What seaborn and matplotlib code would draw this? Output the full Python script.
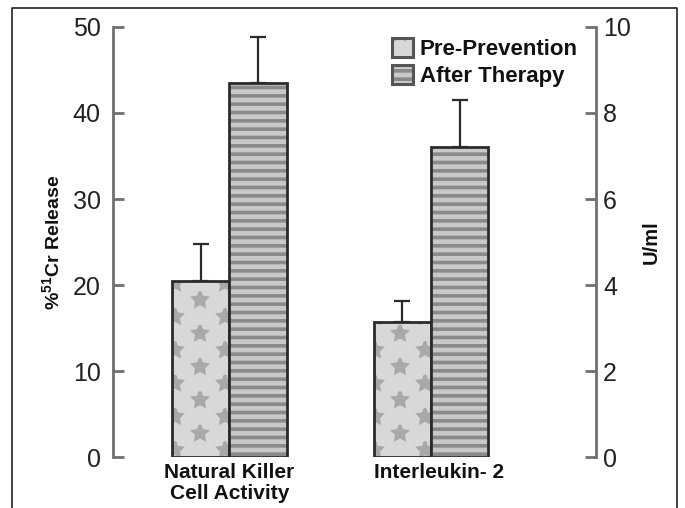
import matplotlib
matplotlib.use("Agg")
import numpy as np
import matplotlib.pyplot as plt
import matplotlib.hatch as mhatch
import matplotlib.transforms as mtransforms
from matplotlib.path import Path
import seaborn as sns
import pandas as pd
from matplotlib.patches import Patch
from matplotlib.lines import Line2D
from matplotlib.colors import to_rgba

# ---- data ----
categories = ["Natural Killer\nCell Activity", "Interleukin- 2"]
conditions = ["Pre-Prevention", "After Therapy"]
nk_values = [20.5, 43.5]       # % 51Cr release (left axis)
nk_errors = [4.3, 5.3]
il2_values = [3.15, 7.2]       # U/ml (right axis)
il2_errors = [0.48, 1.1]
left_ticks = [0, 10, 20, 30, 40, 50]
right_ticks = [0, 2, 4, 6, 8, 10]

face_colors = ["#d8d8d8", "#c9c9c9"]
hatch_colors = ["#a9a9a9", "#8a8a8a"]
hatches = ["*", "--"]


# sparser, larger star texture for the '*' hatch
class SparseStars(mhatch.HatchPatternBase):
    def __init__(self, hatch, density):
        self.rows = 6 if hatch.count("*") else 0
        self.cols = 2
        star = Path.unit_regular_star(5)
        self.shape_vertices = star.vertices * 0.064
        codes = np.full(len(star.vertices), Path.LINETO, dtype=Path.code_type)
        codes[0] = Path.MOVETO
        self.shape_codes = codes
        if self.rows == 0:
            self.num_vertices = 0
        else:
            n_shapes = 0
            for r in range(self.rows + 1):
                n_shapes += (self.cols + 1) if r % 2 == 0 else self.cols
            self.num_vertices = n_shapes * len(self.shape_vertices)

    def set_vertices_and_codes(self, vertices, codes):
        vparts, cparts = [], []
        for r in range(self.rows + 1):
            if r % 2 == 0:
                cols = np.linspace(0, 1, self.cols + 1)
            else:
                cols = np.linspace(0.5 / self.cols, 1 - 0.5 / self.cols, self.cols)
            y = r / self.rows
            for x in cols:
                vparts.append(self.shape_vertices + [x, y])
                cparts.append(self.shape_codes)
        np.concatenate(vparts, out=vertices)
        np.concatenate(cparts, out=codes)


mhatch._hatch_types = [SparseStars if t is mhatch.Stars else t for t in mhatch._hatch_types]

sns.set_theme(style="white")
plt.rcParams["font.family"] = ["Liberation Sans", "DejaVu Sans"]
plt.rcParams["mathtext.fontset"] = "custom"
plt.rcParams["mathtext.rm"] = "Liberation Sans:bold"
plt.rcParams["mathtext.bf"] = "Liberation Sans:bold"
plt.rcParams["hatch.linewidth"] = 2.6

fig = plt.figure(figsize=(6.85, 5.08), dpi=100)
ax = fig.add_axes([0.165, 0.100, 0.705, 0.847])
ax2 = ax.twinx()

nk_df = pd.DataFrame({"group": [categories[0]] * 2, "condition": conditions, "value": nk_values})
il_df = pd.DataFrame({"group": [categories[1]] * 2, "condition": conditions, "value": il2_values})


def set_hatch_color(p, c):
    try:
        p.set_hatchcolor(c)
    except AttributeError:
        p._hatch_color = to_rgba(c)


def draw(axis, df, errs):
    sns.barplot(data=df, x="group", y="value", hue="condition", order=categories,
                hue_order=conditions, palette=face_colors, width=0.57, errorbar=None,
                legend=False, ax=axis, linewidth=2.0, edgecolor="#2b2b2b", saturation=1)
    xs, ys = [], []
    for i, p in enumerate(axis.patches):
        p.set_hatch(hatches[i])
        p.set_edgecolor("#2b2b2b")
        set_hatch_color(p, hatch_colors[i])
        p.set_zorder(2)
        xs.append(p.get_x() + p.get_width() / 2)
        ys.append(p.get_height())
    axis.errorbar(xs, ys, yerr=[[0] * len(errs), errs], fmt="none", ecolor="#2b2b2b",
                  elinewidth=1.6, capsize=6, capthick=1.6, zorder=1.5)


draw(ax, nk_df, nk_errors)
draw(ax2, il_df, il2_errors)

for a in (ax, ax2):
    a.set_xlim(-0.578, 1.819)
    a.set_xlabel("")
    for s in ("top", "bottom"):
        a.spines[s].set_visible(False)

ax.set_ylim(0, 50)
ax2.set_ylim(0, 10)
ax.set_yticks(left_ticks)
ax2.set_yticks(right_ticks)
ax.spines["right"].set_visible(False)
ax2.spines["left"].set_visible(False)
ax.spines["left"].set_color("#707070")
ax.spines["left"].set_linewidth(2)
ax2.spines["right"].set_color("#707070")
ax2.spines["right"].set_linewidth(2)
ax.patch.set_visible(False)

ax.tick_params(axis="y", direction="in", length=8, width=2, color="#707070",
               labelsize=18, pad=9, labelcolor="#222222")
ax2.tick_params(axis="y", direction="in", length=8, width=2, color="#707070",
                labelsize=18, pad=5, labelcolor="#222222")
ax.set_xticks(range(len(categories)))
ax.set_xticklabels(categories, fontsize=15, fontweight="bold", color="#111111", linespacing=1.12)
ax.tick_params(axis="x", length=0, pad=4, labelbottom=True)
ax2.tick_params(axis="x", labelbottom=False, length=0)
# the second category label sits slightly right of its bar pair in the original
lab = ax.get_xticklabels()[1]
lab.set_transform(lab.get_transform() + mtransforms.ScaledTranslation(0.08, 0, fig.dpi_scale_trans))

ax.set_ylabel(r"%$^{51}$Cr Release", fontsize=14, fontweight="bold", labelpad=6, color="#111111")
ax2.set_ylabel("U/ml", fontsize=14.5, fontweight="bold", labelpad=8, color="#111111")
ax2.yaxis.set_label_position("right")

handles = []
for i in range(len(conditions)):
    h = Patch(facecolor=face_colors[i], edgecolor="#555555", linewidth=2.2, hatch=hatches[i])
    set_hatch_color(h, hatch_colors[i])
    handles.append(h)
leg = ax2.legend(handles, conditions, loc="upper right", bbox_to_anchor=(0.99, 1.005),
                 frameon=False, handlelength=0.95, handleheight=0.95, handletextpad=0.3,
                 labelspacing=0.2, borderaxespad=0.2,
                 prop={"weight": "bold", "size": 16})
for t in leg.get_texts():
    t.set_color("#111111")

# figure border (left, top, right)
fig.add_artist(Line2D([0.017, 0.017, 0.988, 0.988], [0, 0.985, 0.985, 0],
                      transform=fig.transFigure, color="#222222", linewidth=1.2))

fig.savefig("out.png", dpi=100)
